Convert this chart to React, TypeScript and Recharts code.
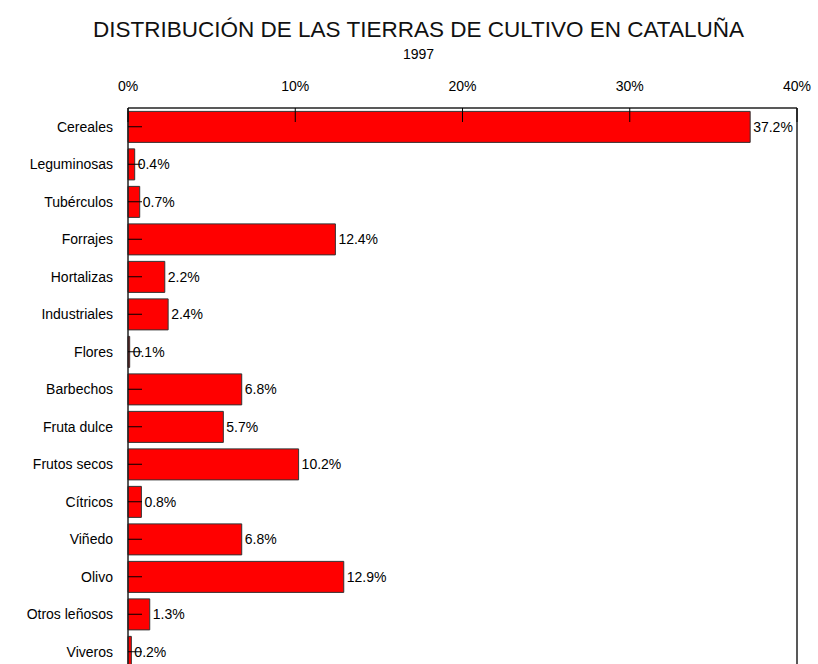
import React from 'react';
import { BarChart, Bar, XAxis, YAxis, ReferenceLine, LabelList } from 'recharts';

const categories = [
  'Cereales', 'Leguminosas', 'Tubérculos', 'Forrajes', 'Hortalizas', 'Industriales', 'Flores',
  'Barbechos', 'Fruta dulce', 'Frutos secos', 'Cítricos', 'Viñedo', 'Olivo', 'Otros leñosos', 'Viveros',
];
const shares = [37.2, 0.4, 0.7, 12.4, 2.2, 2.4, 0.1, 6.8, 5.7, 10.2, 0.8, 6.8, 12.9, 1.3, 0.2];
const xTicks = [0, 10, 20, 30, 40];
const title = 'DISTRIBUCIÓN DE LAS TIERRAS DE CULTIVO EN CATALUÑA';
const subtitle = '1997';

const data = categories.map((c, i) => ({ name: c, value: shares[i] }));

const FONT = '"Liberation Sans", Arial, sans-serif';
const X_TM = 17;
const Y_TM = 15;
const TICK_LEN = 14;

const XTick = (props: any) => {
  const { x, y, payload } = props;
  return (
    <g>
      <text x={x} y={y} textAnchor="middle" fontSize={14} fontFamily={FONT} fill="#000">
        {payload.value}%
      </text>
      <line x1={x} x2={x} y1={y + X_TM} y2={y + X_TM + TICK_LEN} stroke="#000" strokeWidth={1} />
    </g>
  );
};

const YTick = (props: any) => {
  const { x, y, payload } = props;
  return (
    <g>
      <text x={x} y={y} dy={5} textAnchor="end" fontSize={14} fontFamily={FONT} fill="#000">
        {payload.value}
      </text>
      <line x1={x + Y_TM} x2={x + Y_TM + TICK_LEN} y1={y} y2={y} stroke="#000" strokeWidth={1} />
    </g>
  );
};

export default function App() {
  return (
    <div style={{ position: 'absolute', left: 0, top: 0, width: 818, height: 664, overflow: 'hidden', background: '#fff' }}>
      <svg width={818} height={70} style={{ position: 'absolute', left: 0, top: 0 }}>
        <text x={418.5} y={37} textAnchor="middle" fontSize={22.5} fontFamily={FONT} fill="#111">
          {title}
        </text>
        <text x={418.5} y={59} textAnchor="middle" fontSize={14} fontFamily={FONT} fill="#000">
          {subtitle}
        </text>
      </svg>
      <div style={{ position: 'absolute', left: 0, top: 0 }}>
        <BarChart
          width={818}
          height={680}
          data={data}
          layout="vertical"
          margin={{ top: 78, right: 21, left: 0, bottom: 9.5 }}
          barCategoryGap="9%"
        >
          <Bar dataKey="value" fill="#ff0000" stroke="#333" strokeWidth={1} isAnimationActive={false}>
            <LabelList
              dataKey="value"
              position="right"
              offset={3}
              fontSize={14}
              fontFamily={FONT}
              fill="#000"
              formatter={(v: any) => `${Number(v).toFixed(1)}%`}
            />
          </Bar>
          <ReferenceLine x={40} stroke="#222" strokeWidth={1.5} />
          <XAxis
            type="number"
            orientation="top"
            domain={[0, 40]}
            ticks={xTicks}
            height={30}
            tickSize={0}
            tickMargin={X_TM}
            tickLine={false}
            axisLine={{ stroke: '#222', strokeWidth: 1.5 }}
            tick={<XTick />}
            interval={0}
          />
          <YAxis
            type="category"
            dataKey="name"
            width={128}
            tickSize={0}
            tickMargin={Y_TM}
            tickLine={false}
            axisLine={{ stroke: '#222', strokeWidth: 1.5 }}
            tick={<YTick />}
            interval={0}
          />
        </BarChart>
      </div>
    </div>
  );
}
